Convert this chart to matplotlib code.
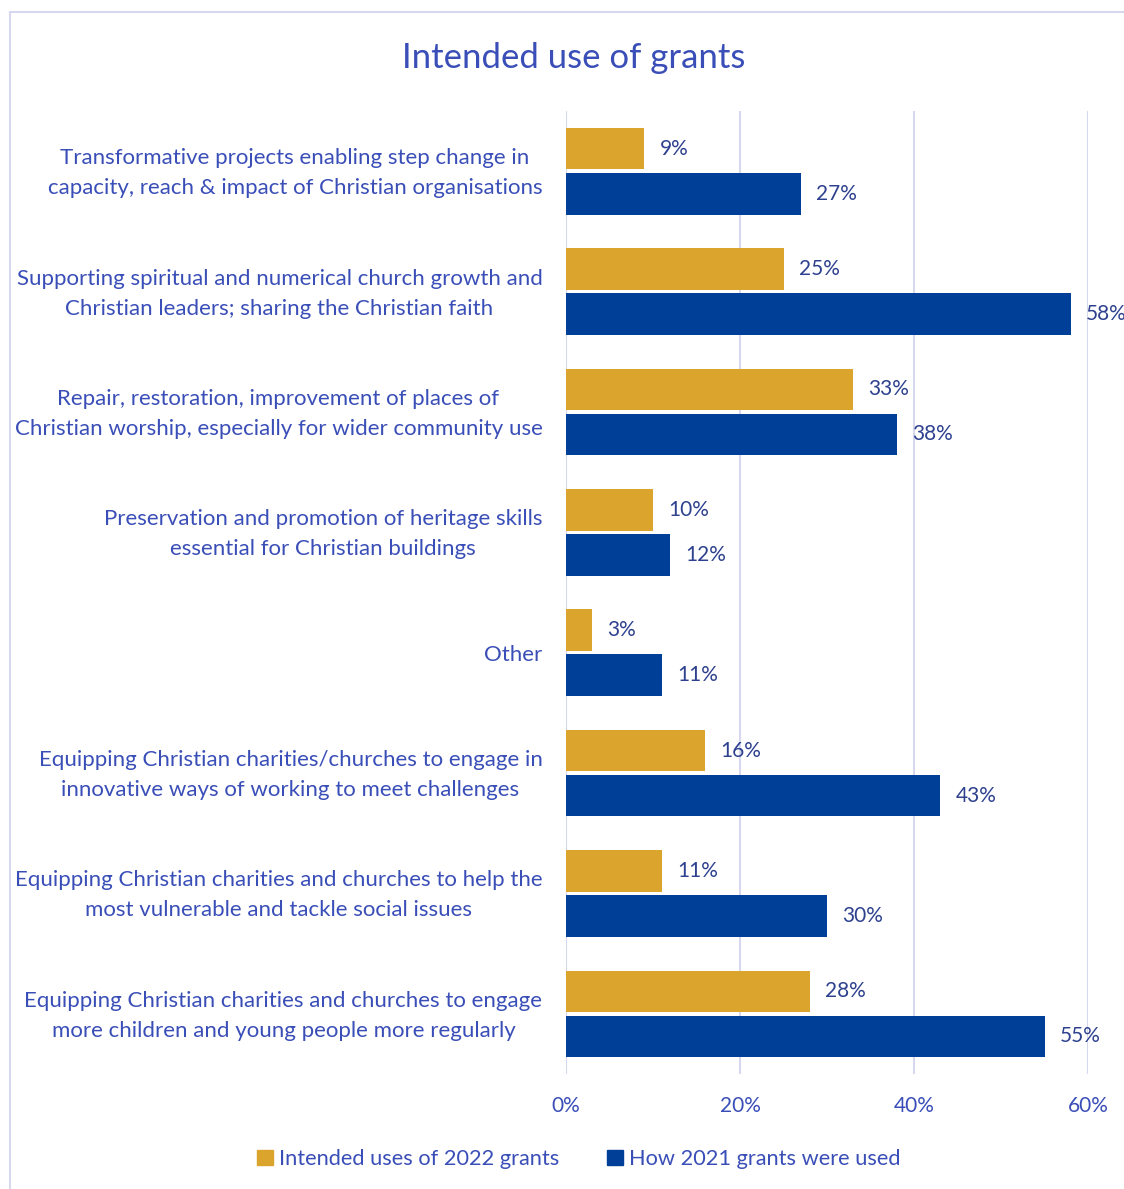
import numpy as np
import matplotlib
matplotlib.use("Agg")
import matplotlib.pyplot as plt
import matplotlib.transforms as mtransforms
from matplotlib.patches import Patch, Rectangle

# categories, top to bottom
categories = [
    "Transformative projects enabling step change in\ncapacity, reach & impact of Christian organisations",
    "Supporting spiritual and numerical church growth and\nChristian leaders; sharing the Christian faith",
    "Repair, restoration, improvement of places of\nChristian worship, especially for wider community use",
    "Preservation and promotion of heritage skills\nessential for Christian buildings",
    "Other",
    "Equipping Christian charities/churches to engage in\ninnovative ways of working to meet challenges",
    "Equipping Christian charities and churches to help the\nmost vulnerable and tackle social issues",
    "Equipping Christian charities and churches to engage\nmore children and young people more regularly",
]
intended_2022 = [9, 25, 33, 10, 3, 16, 11, 28]
used_2021 = [27, 58, 38, 12, 11, 43, 30, 55]
series_names = ["Intended uses of 2022 grants", "How 2021 grants were used"]
x_ticks = [0, 20, 40, 60]

GOLD = "#DBA52D"
BLUE = "#003F98"
TXT = "#3A4EB8"
VAL = "#2E418F"
GRID = "#D5D8EE"

plt.rcParams["font.family"] = ["Lato", "DejaVu Sans"]

fig = plt.figure(figsize=(11.24, 11.89), dpi=100)
ax = fig.add_axes([0.5036, 0.0967, 0.4644, 0.8099])

# light frame round the chart
fig.patches.append(Rectangle((10 / 1124, -0.1), 1.2, 1.1 - 12 / 1189,
                             transform=fig.transFigure, fill=False,
                             edgecolor=GRID, linewidth=1.5))

y = np.arange(len(categories))
h = 0.345
off = 0.187
b1 = ax.barh(y - off, intended_2022, height=h, color=GOLD, zorder=3)
b2 = ax.barh(y + off, used_2021, height=h, color=BLUE, zorder=3)

for bars, vals in ((b1, intended_2022), (b2, used_2021)):
    for bar, v in zip(bars, vals):
        ax.annotate(f"{v}%", (v, bar.get_y() + bar.get_height() / 2),
                    xytext=(11, 0), textcoords="offset points",
                    ha="left", va="center", fontsize=15, color=VAL,
                    annotation_clip=False)

ax.set_xlim(0, 60)
ax.set_ylim(len(categories) - 0.5, -0.5)
ax.set_xticks(x_ticks)
ax.set_xticklabels([f"{t}%" for t in x_ticks])
ax.set_yticks(y)
ax.set_yticklabels(categories, linespacing=1.62)
ax.tick_params(axis="y", length=0, pad=17, labelsize=16, labelcolor=TXT)
ax.tick_params(axis="x", length=0, pad=16, labelsize=15, labelcolor=TXT)
# two-line labels sit a little high, centred on the pair of bars
nudge = mtransforms.ScaledTranslation(0, 5 / 100, fig.dpi_scale_trans)
for t in ax.get_yticklabels():
    t.set_multialignment("center")
    if "\n" in t.get_text():
        t.set_transform(t.get_transform() + nudge)
ax.grid(axis="x", color=GRID, linewidth=1.5, zorder=0)
for s in ax.spines.values():
    s.set_visible(False)

fig.text(574 / 1124, 1 - 58 / 1189, "Intended use of grants",
         ha="center", va="center", fontsize=25, color=TXT)

handles = [Patch(color=GOLD), Patch(color=BLUE)]
fig.legend(handles, series_names, loc="center",
           bbox_to_anchor=(579 / 1124, 1 - 1159 / 1189), ncol=2,
           frameon=False, fontsize=15.7, labelcolor=TXT,
           handlelength=0.7, handleheight=0.7, handletextpad=0.3,
           columnspacing=2.2)

fig.savefig("out.png", dpi=100)
